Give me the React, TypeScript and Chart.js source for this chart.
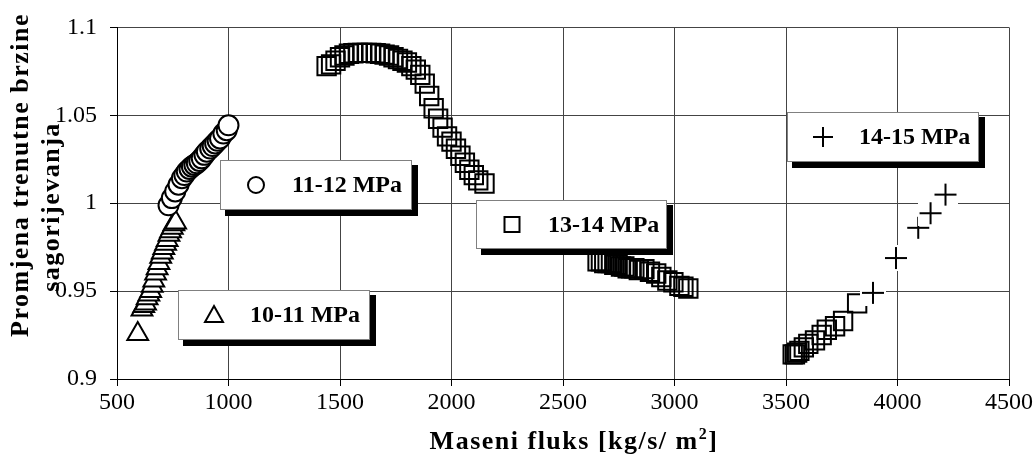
import { useEffect, useRef } from 'react';
import { Chart, registerables } from 'chart.js';

Chart.register(...registerables);

const FONT = "'Liberation Serif', 'Times New Roman', Times, serif";

// ---- axis ticks ----
const xTicks = [500, 1000, 1500, 2000, 2500, 3000, 3500, 4000, 4500];
const xTickLabels = ['500', '1000', '1500', '2000', '2500', '3000', '3500', '4000', '4500'];
const yTicks = [0.9, 0.95, 1, 1.05, 1.1];
const yTickLabels = ['0.9', '0.95', '1', '1.05', '1.1'];

const xTitleMain = 'Maseni fluks [kg/s/ m';
const xTitleSup = '2';
const xTitleEnd = ']';
const yTitleLines = ['Promjena trenutne brzine', 'sagorijevanja'];

const seriesNames = ['10-11 MPa', '11-12 MPa', '13-14 MPa', '14-15 MPa'];

// ---- series: 10-11 MPa (triangles) ----
const flux1011 = [593, 612, 620, 628, 635, 643, 651, 658, 665, 673, 680, 688, 696, 703, 710, 718, 725, 733, 740, 748, 755, 763];
const rate1011 = [0.9256, 0.9396, 0.9415, 0.943, 0.946, 0.948, 0.950, 0.953, 0.956, 0.960, 0.963, 0.966, 0.9695, 0.972, 0.9745, 0.977, 0.979, 0.982, 0.984, 0.986, 0.988, 0.989];

// ---- series: 11-12 MPa (circles) ----
const flux1112 = [731, 746, 761, 776, 791, 802, 813, 825, 836, 847, 858, 869, 880, 892, 903, 918, 929, 940, 951, 962, 977, 992, 1000];
const rate1112 = [0.9988, 1.0029, 1.0067, 1.0105, 1.0142, 1.016, 1.018, 1.0195, 1.0208, 1.0218, 1.0227, 1.024, 1.0255, 1.0275, 1.0293, 1.0311, 1.0325, 1.034, 1.0355, 1.0368, 1.0396, 1.0415, 1.0443];

// ---- series: 13-14 MPa (squares) ----
const flux1314 = [
  1440, 1460, 1480, 1500, 1520, 1540, 1560, 1580, 1600, 1620, 1640, 1660, 1680, 1700, 1720, 1740, 1760, 1780,
  1800, 1820, 1840, 1860, 1880, 1900, 1920, 1940, 1960, 1980, 2000, 2020, 2040, 2060, 2080, 2100, 2120, 2148,
  2655, 2670, 2685, 2700, 2715, 2730, 2745, 2760, 2775, 2790, 2805, 2820, 2840, 2865, 2890, 2918, 2941, 2968,
  2995, 3022, 3040, 3062,
  3530, 3540, 3550, 3560, 3580, 3600, 3630, 3660, 3683, 3720, 3756, 3819,
];
const rate1314 = [
  1.078, 1.079, 1.081, 1.083, 1.084, 1.085, 1.0853, 1.0855, 1.0855, 1.0855, 1.0855, 1.0853, 1.085, 1.0845, 1.084, 1.083, 1.082, 1.081,
  1.080, 1.078, 1.076, 1.073, 1.068, 1.061, 1.054, 1.048, 1.043, 1.038, 1.035, 1.031, 1.027, 1.023, 1.019, 1.016, 1.013, 1.0112,
  0.967, 0.967, 0.966, 0.966, 0.966, 0.965, 0.965, 0.964, 0.964, 0.963, 0.963, 0.963, 0.962, 0.9625, 0.961, 0.960, 0.958, 0.956,
  0.955, 0.953, 0.9525, 0.9515,
  0.914, 0.914, 0.915, 0.916, 0.918, 0.920, 0.922, 0.925, 0.928, 0.930, 0.933, 0.943,
];

// ---- series: 14-15 MPa (plus) ----
const flux1415 = [3890, 3993, 4093, 4148, 4215];
const rate1415 = [0.949, 0.9688, 0.986, 0.9943, 1.0049];

// ---- legend box layout ----
const legendLayout = [
  { name: seriesNames[0], marker: 'triangle', x: 178, y: 290, w: 192, h: 50 },
  { name: seriesNames[1], marker: 'circle', x: 220, y: 160, w: 192, h: 50 },
  { name: seriesNames[2], marker: 'square', x: 476, y: 200, w: 191, h: 49 },
  { name: seriesNames[3], marker: 'plus', x: 787, y: 112, w: 192, h: 50 },
];

function toPoints(xs: number[], ys: number[]) {
  return xs.map((x, i) => ({ x, y: ys[i] }));
}

function makePlus(size: number, len: number) {
  const c = document.createElement('canvas');
  c.width = size;
  c.height = size;
  const g = c.getContext('2d')!;
  g.fillStyle = '#fff';
  g.fillRect(0, 0, size, size);
  g.strokeStyle = '#000';
  g.lineWidth = 2;
  const m = size / 2;
  g.beginPath();
  g.moveTo(m - len / 2, m);
  g.lineTo(m + len / 2, m);
  g.moveTo(m, m - len / 2);
  g.lineTo(m, m + len / 2);
  g.stroke();
  return c;
}

function drawLegendMarker(ctx: CanvasRenderingContext2D, kind: string, cx: number, cy: number) {
  ctx.save();
  ctx.strokeStyle = '#000';
  ctx.fillStyle = '#fff';
  ctx.lineWidth = 2;
  ctx.beginPath();
  if (kind === 'circle') {
    ctx.arc(cx, cy, 8, 0, Math.PI * 2);
    ctx.fill();
    ctx.stroke();
  } else if (kind === 'triangle') {
    ctx.moveTo(cx, cy - 9);
    ctx.lineTo(cx + 9, cy + 7);
    ctx.lineTo(cx - 9, cy + 7);
    ctx.closePath();
    ctx.fill();
    ctx.stroke();
  } else if (kind === 'square') {
    ctx.rect(cx - 7.5, cy - 7.5, 15, 15);
    ctx.stroke();
  } else if (kind === 'plus') {
    ctx.moveTo(cx - 10, cy);
    ctx.lineTo(cx + 10, cy);
    ctx.moveTo(cx, cy - 10);
    ctx.lineTo(cx, cy + 10);
    ctx.stroke();
  }
  ctx.restore();
}

const overlayPlugin = {
  id: 'overlay',
  afterDraw(chart: any) {
    const ctx: CanvasRenderingContext2D = chart.ctx;
    ctx.save();
    // legend boxes
    for (const b of legendLayout) {
      ctx.fillStyle = '#000';
      ctx.fillRect(b.x + 5, b.y + b.h, b.w + 1, 6);
      ctx.fillRect(b.x + b.w, b.y + 5, 6, b.h + 1);
      ctx.fillStyle = '#fff';
      ctx.fillRect(b.x, b.y, b.w, b.h);
      ctx.strokeStyle = '#808080';
      ctx.lineWidth = 1;
      ctx.strokeRect(b.x + 0.5, b.y + 0.5, b.w - 1, b.h - 1);
      drawLegendMarker(ctx, b.marker, b.x + 36, b.y + b.h / 2);
      ctx.fillStyle = '#000';
      ctx.font = `bold 24px ${FONT}`;
      ctx.textAlign = 'left';
      ctx.textBaseline = 'middle';
      ctx.fillText(b.name, b.x + 72, b.y + b.h / 2 + 1);
    }

    // y title
    const yPos = [
      { x: 21, y: 175 },
      { x: 52, y: 207 },
    ];
    ctx.font = `bold 26px ${FONT}`;
    (ctx as any).letterSpacing = '1.5px';
    ctx.fillStyle = '#000';
    ctx.textAlign = 'center';
    ctx.textBaseline = 'middle';
    yTitleLines.forEach((line, i) => {
      ctx.save();
      ctx.translate(yPos[i].x, yPos[i].y);
      ctx.rotate(-Math.PI / 2);
      ctx.fillText(line, 0, 0);
      ctx.restore();
    });

    // x title
    ctx.font = `bold 26px ${FONT}`;
    const w1 = ctx.measureText(xTitleMain).width;
    ctx.font = `bold 16px ${FONT}`;
    const w2 = ctx.measureText(xTitleSup).width;
    ctx.font = `bold 26px ${FONT}`;
    const w3 = ctx.measureText(xTitleEnd).width;
    const total = w1 + w2 + w3;
    let xs = 574 - total / 2;
    const baseY = 449;
    ctx.textAlign = 'left';
    ctx.textBaseline = 'alphabetic';
    ctx.fillText(xTitleMain, xs, baseY);
    xs += w1;
    ctx.font = `bold 16px ${FONT}`;
    ctx.fillText(xTitleSup, xs, baseY - 10);
    xs += w2;
    ctx.font = `bold 26px ${FONT}`;
    ctx.fillText(xTitleEnd, xs, baseY);
    ctx.restore();
  },
};

export default function App() {
  const ref = useRef<HTMLCanvasElement | null>(null);

  useEffect(() => {
    if (!ref.current) return;
    const plusImg = makePlus(26, 22);
    const chart = new Chart(ref.current, {
      type: 'scatter',
      data: {
        datasets: [
          {
            label: seriesNames[3],
            data: toPoints(flux1415, rate1415),
            pointStyle: plusImg as any,
            pointRadius: 13,
            showLine: false,
          },
          {
            label: seriesNames[1],
            data: toPoints(flux1112, rate1112),
            pointStyle: 'circle',
            pointRadius: 10,
            pointBackgroundColor: '#fff',
            pointBorderColor: '#000',
            pointBorderWidth: 2,
            showLine: false,
          },
          {
            label: seriesNames[2],
            data: toPoints(flux1314, rate1314),
            pointStyle: 'rect',
            pointRadius: 13,
            pointBackgroundColor: 'rgba(0,0,0,0)',
            pointBorderColor: '#000',
            pointBorderWidth: 2,
            showLine: false,
          },
          {
            label: seriesNames[0],
            data: toPoints(flux1011, rate1011),
            pointStyle: 'triangle',
            pointRadius: 12,
            pointBackgroundColor: '#fff',
            pointBorderColor: '#000',
            pointBorderWidth: 2,
            showLine: false,
          },
        ],
      },
      options: {
        responsive: false,
        devicePixelRatio: 1,
        animation: false,
        events: [],
        layout: { padding: { left: 0, right: 25, top: 24, bottom: 0 } },
        plugins: {
          legend: { display: false },
          tooltip: { enabled: false },
        },
        scales: {
          x: {
            type: 'linear',
            min: 500,
            max: 4500,
            afterFit: (s: any) => {
              s.height = 80;
            },
            afterBuildTicks: (s: any) => {
              s.ticks = xTicks.map((v) => ({ value: v }));
            },
            ticks: {
              color: '#000',
              font: { family: FONT, size: 24 },
              padding: 2,
              maxRotation: 0,
              autoSkip: false,
              callback: (v: any) => {
                const i = xTicks.indexOf(Number(v));
                return i >= 0 ? xTickLabels[i] : '';
              },
            },
            grid: { color: '#444', lineWidth: 1, tickLength: 7, tickColor: '#000' },
            border: { color: '#000', width: 1 },
          },
          y: {
            type: 'linear',
            min: 0.9,
            max: 1.1,
            afterFit: (s: any) => {
              s.width = 117;
            },
            afterBuildTicks: (s: any) => {
              s.ticks = yTicks.map((v) => ({ value: v }));
            },
            ticks: {
              color: '#000',
              font: { family: FONT, size: 24 },
              padding: 13,
              autoSkip: false,
              callback: (v: any) => {
                const i = yTicks.findIndex((t) => Math.abs(t - Number(v)) < 1e-9);
                return i >= 0 ? yTickLabels[i] : '';
              },
            },
            grid: { color: '#444', lineWidth: 1, tickLength: 7, tickColor: '#000' },
            border: { color: '#000', width: 1 },
          },
        },
      },
      plugins: [overlayPlugin],
    });
    return () => chart.destroy();
  }, []);

  return (
    <canvas
      ref={ref}
      width={1035}
      height={459}
      style={{ position: 'absolute', left: 0, top: 0, width: 1035, height: 459, display: 'block' }}
    />
  );
}
